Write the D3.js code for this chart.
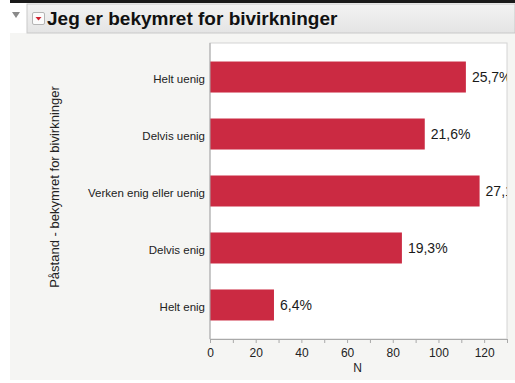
<!DOCTYPE html>
<html>
<head>
<meta charset="utf-8">
<script src="https://cdn.jsdelivr.net/npm/d3@7"></script>
<style>
  html, body { margin: 0; padding: 0; background: #fff; }
  svg { display: block; font-family: "Liberation Sans", Arial, Helvetica, sans-serif; }
</style>
</head>
<body>
<svg id="chart" width="515" height="383"></svg>
<script>
// Survey responses: "Jeg er bekymret for bivirkninger"
const categories = ["Helt uenig", "Delvis uenig", "Verken enig eller uenig", "Delvis enig", "Helt enig"];
const counts = [112, 94, 118, 84, 28];
const shareLabels = ["25,7%", "21,6%", "27,1%", "19,3%", "6,4%"];
const xTicks = [0, 20, 40, 60, 80, 100, 120];
const xMinorTicks = [10, 30, 50, 70, 90, 110, 130];

const title = "Jeg er bekymret for bivirkninger";
const yTitle = "Påstand - bekymret for bivirkninger";
const xTitle = "N";

const svg = d3.select("#chart");
const W = 515, H = 383;

// Outline panel and header strip
svg.append("rect").attr("x", 10).attr("y", 0).attr("width", W - 10).attr("height", 3).attr("fill", "#1a1a1a");
svg.append("rect").attr("x", 10).attr("y", 33).attr("width", W - 10).attr("height", 347).attr("fill", "#f5f5f3");
const hdr = svg.append("defs").append("linearGradient").attr("id", "hdr").attr("x1", 0).attr("y1", 0).attr("x2", 0).attr("y2", 1);
hdr.append("stop").attr("offset", 0).attr("stop-color", "#f3f3f3");
hdr.append("stop").attr("offset", 1).attr("stop-color", "#e4e4e4");
svg.append("rect").attr("x", 27).attr("y", 4).attr("width", W - 27).attr("height", 29)
  .attr("fill", "url(#hdr)").attr("stroke", "#c9c9c9").attr("stroke-width", 1);
// Disclosure triangle
svg.append("path").attr("d", "M12,12 L20,12 L16,18 Z").attr("fill", "#8a8a8a");
// Red menu button
svg.append("rect").attr("x", 32.5).attr("y", 12.5).attr("width", 12).attr("height", 12).attr("rx", 1.5)
  .attr("fill", "#fbfbfb").attr("stroke", "#b5b5b5");
svg.append("path").attr("d", "M35.5,17 L41.5,17 L38.5,20.5 Z").attr("fill", "#d0202e");
svg.append("text").attr("x", 47).attr("y", 25).attr("font-size", 19).attr("font-weight", "bold")
  .attr("fill", "#111").text(title);

// Plot geometry
const plot = { left: 210, top: 43, right: 507, bottom: 339 };

const x = d3.scaleLinear().domain([0, 130]).range([plot.left, plot.right]);
const y = d3.scaleBand().domain(categories).range([plot.top, plot.bottom])
  .paddingInner(0.456).paddingOuter(0.325);

svg.append("rect").attr("x", plot.left).attr("y", plot.top)
  .attr("width", plot.right - plot.left).attr("height", plot.bottom - plot.top)
  .attr("fill", "#fff").attr("stroke", "#d4d4d4");

svg.append("clipPath").attr("id", "plotClip").append("rect")
  .attr("x", plot.left).attr("y", plot.top)
  .attr("width", plot.right - plot.left).attr("height", plot.bottom - plot.top);

const data = categories.map((c, i) => ({ c, n: counts[i], label: shareLabels[i] }));

// Bars and share labels, clipped to the plot frame
const g = svg.append("g").attr("clip-path", "url(#plotClip)");
g.selectAll("rect.bar").data(data).join("rect").attr("class", "bar")
  .attr("x", x(0)).attr("y", d => y(d.c))
  .attr("width", d => x(d.n) - x(0)).attr("height", y.bandwidth())
  .attr("fill", "#cb2a42");
g.selectAll("text.val").data(data).join("text").attr("class", "val")
  .attr("x", d => x(d.n) + 6).attr("y", d => y(d.c) + y.bandwidth() / 2)
  .attr("dy", "0.35em").attr("font-size", 14).attr("fill", "#1a1a1a")
  .text(d => d.label);

// Left axis line
svg.append("line").attr("x1", plot.left).attr("x2", plot.left).attr("y1", plot.top).attr("y2", plot.bottom)
  .attr("stroke", "#a9a9a9");

// Category labels
svg.selectAll("text.cat").data(categories).join("text").attr("class", "cat")
  .attr("x", 205).attr("y", d => y(d) + y.bandwidth() / 2 + 2)
  .attr("dy", "0.35em").attr("text-anchor", "end").attr("font-size", 11.5).attr("fill", "#222")
  .text(d => d);

// Bottom axis with major and minor ticks
const xAxis = svg.append("g").attr("transform", `translate(0,${plot.bottom})`)
  .call(d3.axisBottom(x).tickValues(xTicks).tickSize(4).tickPadding(5).tickSizeOuter(0));
svg.append("g").attr("transform", `translate(0,${plot.bottom})`)
  .call(d3.axisBottom(x).tickValues(xMinorTicks).tickSize(4).tickFormat("").tickSizeOuter(0))
  .call(a => a.select(".domain").remove())
  .selectAll("line").attr("stroke", "#a9a9a9");
xAxis.select(".domain").attr("stroke", "#a9a9a9");
xAxis.selectAll("line").attr("stroke", "#a9a9a9");
xAxis.selectAll("text").attr("font-size", 12).attr("fill", "#222")
  .attr("font-family", "Liberation Sans, Arial, sans-serif");

svg.append("text").attr("x", (x(0) + x(130)) / 2 - 1).attr("y", 372).attr("text-anchor", "middle")
  .attr("font-size", 12).attr("fill", "#222").text(xTitle);

svg.append("text").attr("transform", `translate(59,187) rotate(-90)`).attr("text-anchor", "middle")
  .attr("font-size", 13).attr("fill", "#222").text(yTitle);
</script>
</body>
</html>
